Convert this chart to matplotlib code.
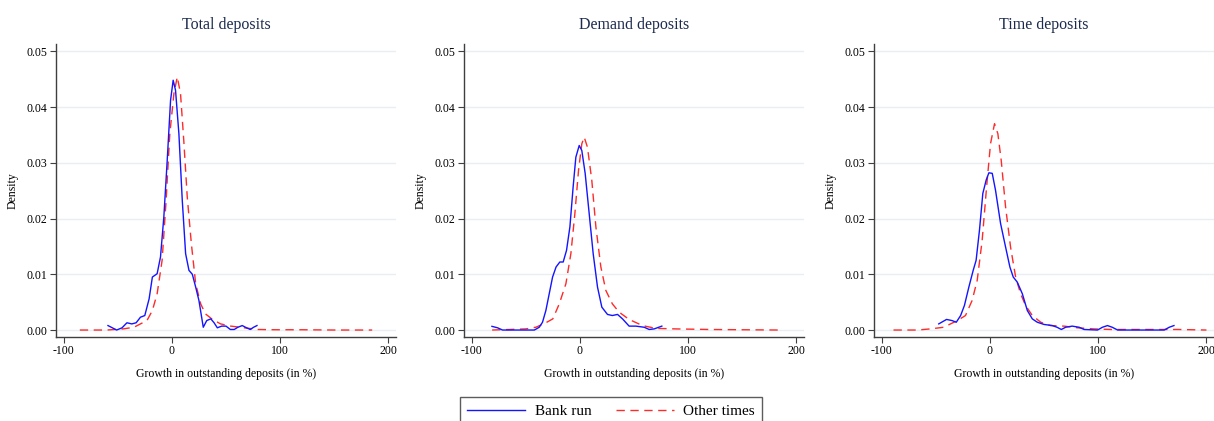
import matplotlib.pyplot as plt

# 字型：Times 類
plt.rcParams['font.family'] = ['Liberation Serif', 'DejaVu Serif']
plt.rcParams['axes.unicode_minus'] = False

# --- 數據 ---
titles = ['Total deposits', 'Demand deposits', 'Time deposits']

total_run_x = [-59, -51, -46, -41.5, -37, -33, -29, -25, -21, -18, -13.6, -10.5, -7.4, -4.3, -1.2, 1.2, 3.4,
               6.5, 9.6, 12.7, 15.8, 18.9, 22, 25, 29, 32.2, 36, 39, 42, 46, 50, 54, 57.6, 61, 65, 69, 72.4,
               75.5, 78.6]
total_run_y = [0.0008, 0.0000, 0.0004, 0.0013, 0.0011, 0.0013, 0.0023, 0.0026, 0.0056, 0.0095, 0.0101,
               0.0131, 0.0203, 0.0304, 0.0412, 0.0448, 0.0430, 0.0352, 0.0233, 0.0137, 0.0107, 0.0100,
               0.0077, 0.0053, 0.0005, 0.0017, 0.0020, 0.0013, 0.0004, 0.0007, 0.0007, 0.0001, 0.0001,
               0.0005, 0.0008, 0.0004, 0.0001, 0.0005, 0.0008]
total_other_x = [-85, -60, -45, -35, -23, -18, -13.6, -9, -5.3, -1.9, 1.9, 5, 8, 11, 14.2, 18, 22, 26.6,
                 31, 37.5, 45, 54.5, 67, 79, 95, 120, 150, 185]
total_other_y = [0.0, 0.0, 0.0002, 0.0005, 0.0017, 0.0035, 0.0065, 0.0125, 0.0233, 0.0352, 0.0424, 0.0454,
                 0.0424, 0.0340, 0.0239, 0.0155, 0.0083, 0.0047, 0.0029, 0.0019, 0.0011, 0.0007, 0.0004,
                 0.0001, 0.00005, 0.00005, 0.0, 0.0]

demand_run_x = [-81.2, -76, -71.4, -42, -37.5, -34.5, -31.4, -28.3, -25.2, -22, -18.5, -15.4, -12.3, -9.2,
                -6.2, -3.7, -0.6, 1.8, 4.9, 8.6, 12.3, 16.3, 20.3, 25.5, 30, 34.8, 39.4, 45.5, 51.7, 59.4,
                64, 68.6, 75.7]
demand_run_y = [0.00066, 0.0004, 0.0, 0.0, 0.0005, 0.0014, 0.0035, 0.0065, 0.0095, 0.0113, 0.0122, 0.0122,
                0.0143, 0.0185, 0.0257, 0.0310, 0.0331, 0.0322, 0.0281, 0.0209, 0.0137, 0.0077, 0.0041,
                0.0028, 0.0026, 0.0028, 0.0020, 0.0007, 0.0007, 0.0005, 0.0001, 0.0002, 0.0007]
demand_other_x = [-81, -65, -50, -40.6, -31.4, -25, -19, -12.9, -8.3, -4.6, -1.2, 1.8, 4, 7, 11, 14.8, 19.4,
                  24, 30, 36.3, 45.5, 57.8, 70, 88.6, 119, 150, 184]
demand_other_y = [0.0, 0.0001, 0.0002, 0.0005, 0.0013, 0.0020, 0.0047, 0.0083, 0.0137, 0.0209, 0.0287,
                  0.0334, 0.0346, 0.0328, 0.0269, 0.0185, 0.0113, 0.0071, 0.0047, 0.0032, 0.0019, 0.0008,
                  0.0003, 0.0002, 0.0001, 0.00005, 0.0]

time_run_x = [-47.2, -40, -35, -31, -27, -23.5, -19.4, -15.4, -12.7, -9.6, -6.5, -3.4, -0.9, 2.2, 5.2, 9.9,
              14.5, 18.5, 21.6, 25.3, 30, 34.6, 39.2, 43.8, 50, 57.7, 62, 66, 70, 76, 82.4, 87, 99.4, 104,
              108.6, 113, 118, 161, 165.7, 170]
time_run_y = [0.0011, 0.0019, 0.0017, 0.0014, 0.0026, 0.0044, 0.0077, 0.0107, 0.0125, 0.0179, 0.0245,
              0.0269, 0.0282, 0.0281, 0.0251, 0.0191, 0.0149, 0.0113, 0.0095, 0.0086, 0.0065, 0.0035,
              0.0020, 0.0014, 0.0010, 0.0008, 0.0005, 0.0001, 0.0005, 0.0007, 0.0005, 0.0001, 0.0, 0.0005,
              0.0008, 0.0005, 0.0, 0.0, 0.0005, 0.0008]
time_other_x = [-89, -67, -55, -42.6, -30, -22.5, -16.4, -11.7, -7.1, -3, 0.6, 4.3, 7.4, 10.5, 14.5, 19.1,
                23.8, 28.4, 33, 39.2, 47, 56, 68.5, 81, 96, 112, 142.6, 173.5, 200]
time_other_y = [0.0, 0.0, 0.0002, 0.0005, 0.0017, 0.0026, 0.0053, 0.0089, 0.0161, 0.0257, 0.0334, 0.0370,
                0.0352, 0.0304, 0.0221, 0.0149, 0.0095, 0.0065, 0.0044, 0.0026, 0.0014, 0.0008, 0.0007,
                0.0004, 0.0002, 0.0001, 0.0001, 0.0001, 0.0]

run_series = [(total_run_x, total_run_y), (demand_run_x, demand_run_y), (time_run_x, time_run_y)]
other_series = [(total_other_x, total_other_y), (demand_other_x, demand_other_y), (time_other_x, time_other_y)]

y_ticks = [0.00, 0.01, 0.02, 0.03, 0.04, 0.05]
x_ticks = [-100, 0, 100, 200]

# --- 繪圖 ---
fig = plt.figure(figsize=(12.14, 4.21), dpi=100)
lefts = [56 / 1214, 464 / 1214, 874 / 1214]
w, b, h = 340 / 1214, (421 - 337) / 421, 293 / 421

spine_c = '#3f3f3f'
title_c = '#1c2b4d'

for i in range(3):
    ax = fig.add_axes([lefts[i], b, w, h])
    rx, ry = run_series[i]
    ox, oy = other_series[i]
    ax.plot(ox, oy, color='#ff2a2a', linestyle=(0, (6, 4)), linewidth=1.0, label='Other times', zorder=3)
    ax.plot(rx, ry, color='#1414ff', linestyle='-', linewidth=1.0, label='Bank run', zorder=4)

    ax.set_xlim(-107, 207)
    ax.set_ylim(-0.00125, 0.0513)
    ax.set_xticks(x_ticks)
    ax.set_yticks(y_ticks)
    ax.set_yticklabels([f'{v:.2f}' for v in y_ticks])
    ax.grid(True, axis='y', color='#e8eef1', linewidth=1.0, zorder=0)
    ax.set_axisbelow(True)

    for s in ['top', 'right']:
        ax.spines[s].set_visible(False)
    for s in ['left', 'bottom']:
        ax.spines[s].set_color(spine_c)
        ax.spines[s].set_linewidth(1.0)
    ax.tick_params(direction='out', length=4, width=0.8, color=spine_c, labelsize=8.5, pad=2)

    ax.set_title(titles[i], fontsize=11.5, color=title_c, pad=11)
    ax.set_xlabel('Growth in outstanding deposits (in %)', fontsize=8.5, labelpad=8)
    ax.set_ylabel('Density', fontsize=8.5, labelpad=6)

    if i == 1:
        handles, labels = ax.get_legend_handles_labels()

# 圖例（Bank run 在前，下緣超出畫布）
leg = fig.legend([handles[1], handles[0]], [labels[1], labels[0]], loc='upper center',
                 bbox_to_anchor=(611 / 1214, 1 - 397 / 421), ncol=2, fontsize=11,
                 frameon=True, fancybox=False, handlelength=3.8, columnspacing=1.6,
                 borderpad=0.5, handletextpad=0.6, borderaxespad=0.0)
leg.get_frame().set_edgecolor('#333333')
leg.get_frame().set_linewidth(1.0)

plt.savefig('out.png', dpi=100)
